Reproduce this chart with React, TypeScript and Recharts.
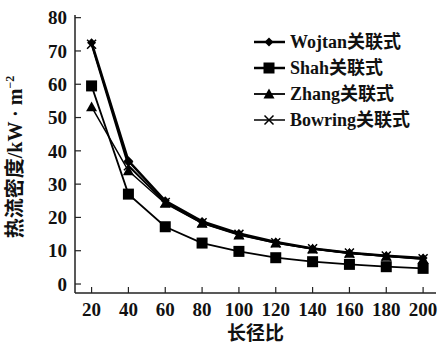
import React from 'react';
import { LineChart, Line, XAxis, YAxis, Legend } from 'recharts';

const ratios = [20, 40, 60, 80, 100, 120, 140, 160, 180, 200];
const wojtan = [72.5, 37, 25, 18.8, 15.2, 12.6, 10.7, 9.4, 8.5, 7.8];
const shah = [59.5, 27, 17.2, 12.3, 9.8, 7.9, 6.7, 5.9, 5.2, 4.7];
const zhang = [53.2, 34, 24.2, 18.2, 14.7, 12.3, 10.5, 9.2, 8.3, 7.4];
const bowring = [72, 35.5, 24.5, 18.4, 14.9, 12.4, 10.6, 9.3, 8.4, 7.6];
const xTicks = [20, 40, 60, 80, 100, 120, 140, 160, 180, 200];
const yTicks = [0, 10, 20, 30, 40, 50, 60, 70, 80];
const seriesNames = ['Wojtan关联式', 'Shah关联式', 'Zhang关联式', 'Bowring关联式'];
const xLabel = '长径比';

const data = ratios.map((r, i) => ({
  r,
  wojtan: wojtan[i],
  shah: shah[i],
  zhang: zhang[i],
  bowring: bowring[i],
}));

const FONT = '"Liberation Serif", "Noto Sans CJK SC", serif';

type MK = 'diamond' | 'square' | 'triangle' | 'cross';

const marker = (kind: MK, cx: number, cy: number, key?: any) => {
  if (cx == null || cy == null) return <g key={key} />;
  if (kind === 'diamond') {
    const s = 4.5;
    return <path key={key} d={`M${cx},${cy - s}L${cx + s},${cy}L${cx},${cy + s}L${cx - s},${cy}Z`} fill="#000" />;
  }
  if (kind === 'square') {
    const s = 5.5;
    return <rect key={key} x={cx - s} y={cy - s} width={2 * s} height={2 * s} fill="#000" />;
  }
  if (kind === 'triangle') {
    const s = 5.5;
    return <path key={key} d={`M${cx},${cy - s}L${cx + s},${cy + s * 0.8}L${cx - s},${cy + s * 0.8}Z`} fill="#000" />;
  }
  const s = 4.5;
  return (
    <path key={key} d={`M${cx - s},${cy - s}L${cx + s},${cy + s}M${cx - s},${cy + s}L${cx + s},${cy - s}`} stroke="#000" strokeWidth={1.5} fill="none" />
  );
};

const mkDot = (kind: MK) => (p: any) => marker(kind, p.cx, p.cy, `${kind}-${p.index}`);

const legendRows: { kind: MK; w: number }[] = [
  { kind: 'diamond', w: 2.5 },
  { kind: 'square', w: 2.5 },
  { kind: 'triangle', w: 1.8 },
  { kind: 'cross', w: 1.5 },
];

const LegendContent = () => (
  <svg width={190} height={110} style={{ display: 'block' }}>
    {legendRows.map((row, i) => {
      const y = 12 + i * 26;
      return (
        <g key={i}>
          <line x1={4} x2={35} y1={y} y2={y} stroke="#000" strokeWidth={row.w} />
          {marker(row.kind, 19, y)}
          <text x={40} y={y} dy="0.35em" fontSize={18} fontWeight="bold" fontFamily={FONT} fill="#111">
            {seriesNames[i]}
          </text>
        </g>
      );
    })}
  </svg>
);

const YLabel = () => (
  <text transform="translate(22,157) rotate(-90)" textAnchor="middle" fontFamily={FONT} fontWeight="bold" fontSize={20} fill="#111">
    <tspan>热流密度/kW · m</tspan>
    <tspan fontSize={12} dy={-8}>−2</tspan>
  </text>
);

export default function App() {
  return (
    <div style={{ position: 'absolute', left: 0, top: 0, background: '#fff' }}>
      <LineChart width={442} height={345} data={data} margin={{ top: 15, right: 6, left: 0, bottom: 0 }}>
        <XAxis
          dataKey="r"
          type="number"
          domain={[11, 207]}
          ticks={xTicks}
          interval={0}
          height={52}
          axisLine={{ stroke: '#222', strokeWidth: 1.5 }}
          tickLine={{ stroke: '#222', strokeWidth: 1.2 }}
          tickSize={-6}
          tickMargin={16}
          tick={{ fill: '#111', fontSize: 19, fontWeight: 'bold', fontFamily: FONT }}
          label={{ value: xLabel, position: 'insideBottom', offset: 5, fill: '#111', fontSize: 19, fontWeight: 'bold', fontFamily: FONT }}
          allowDataOverflow
        />
        <XAxis xAxisId="top" orientation="top" dataKey="r" type="number" domain={[11, 207]} height={0} tick={false} tickLine={false} axisLine={{ stroke: '#222', strokeWidth: 1.5 }} />
        <YAxis
          type="number"
          domain={[-2.7, 80.8]}
          ticks={yTicks}
          interval={0}
          width={75}
          axisLine={{ stroke: '#222', strokeWidth: 1.5 }}
          tickLine={{ stroke: '#222', strokeWidth: 1.2 }}
          tickSize={-6}
          tickMargin={14}
          tick={{ fill: '#111', fontSize: 19, fontWeight: 'bold', fontFamily: FONT }}
          label={<YLabel />}
          allowDataOverflow
        />
        <YAxis yAxisId="right" orientation="right" domain={[-2.7, 80.8]} width={0} tick={false} tickLine={false} axisLine={{ stroke: '#222', strokeWidth: 1.5 }} />
        <Legend
          layout="vertical"
          align="center"
          verticalAlign="middle"
          content={<LegendContent />}
          wrapperStyle={{ position: 'absolute', left: 250, top: 30, width: 190, height: 110 }}
        />
        <Line dataKey="shah" stroke="#000" strokeWidth={1.8} dot={mkDot('square')} isAnimationActive={false} />
        <Line dataKey="zhang" stroke="#000" strokeWidth={1.5} dot={mkDot('triangle')} isAnimationActive={false} />
        <Line dataKey="bowring" stroke="#000" strokeWidth={2} dot={mkDot('cross')} isAnimationActive={false} />
        <Line dataKey="wojtan" stroke="#000" strokeWidth={2.5} dot={mkDot('diamond')} isAnimationActive={false} />
      </LineChart>
    </div>
  );
}
